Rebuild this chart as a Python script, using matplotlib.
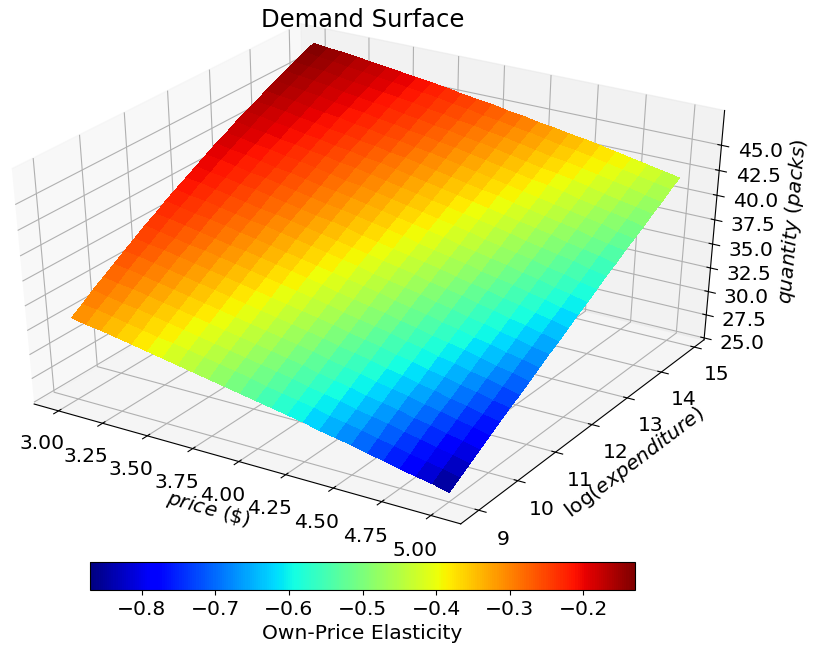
import numpy as np
import matplotlib
matplotlib.use("Agg")
import matplotlib.pyplot as plt
from matplotlib import cm
from matplotlib.colors import Normalize

# grid
price = [3.0, 3.0833, 3.1667, 3.25, 3.3333, 3.4167, 3.5, 3.5833, 3.6667, 3.75, 3.8333, 3.9167, 4.0,
         4.0833, 4.1667, 4.25, 4.3333, 4.4167, 4.5, 4.5833, 4.6667, 4.75, 4.8333, 4.9167, 5.0]
log_exp = [9.0, 9.25, 9.5, 9.75, 10.0, 10.25, 10.5, 10.75, 11.0, 11.25, 11.5, 11.75, 12.0,
           12.25, 12.5, 12.75, 13.0, 13.25, 13.5, 13.75, 14.0, 14.25, 14.5, 14.75, 15.0]

# quantity (packs), one row per price, one column per log(expenditure)
quantity = [
    [33.3, 34.0, 34.8, 35.5, 36.2, 36.9, 37.6, 38.3, 38.9, 39.6, 40.2, 40.8, 41.4, 42.0, 42.6, 43.1, 43.7, 44.2, 44.7, 45.2, 45.7, 46.2, 46.6, 47.1, 47.5],
    [33.0, 33.8, 34.5, 35.2, 36.0, 36.7, 37.3, 38.0, 38.7, 39.3, 39.9, 40.6, 41.1, 41.8, 42.3, 42.9, 43.4, 44.0, 44.5, 45.0, 45.5, 46.0, 46.4, 46.9, 47.3],
    [32.8, 33.5, 34.2, 35.0, 35.7, 36.4, 37.1, 37.7, 38.4, 39.0, 39.7, 40.3, 40.9, 41.5, 42.1, 42.6, 43.2, 43.7, 44.3, 44.8, 45.3, 45.8, 46.3, 46.7, 47.2],
    [32.5, 33.2, 34.0, 34.7, 35.4, 36.1, 36.8, 37.4, 38.1, 38.8, 39.4, 40.0, 40.6, 41.2, 41.8, 42.4, 42.9, 43.5, 44.0, 44.5, 45.1, 45.6, 46.0, 46.5, 47.0],
    [32.2, 32.9, 33.7, 34.4, 35.1, 35.8, 36.5, 37.2, 37.8, 38.5, 39.1, 39.7, 40.4, 41.0, 41.5, 42.1, 42.7, 43.2, 43.8, 44.3, 44.8, 45.3, 45.8, 46.3, 46.8],
    [31.9, 32.6, 33.4, 34.1, 34.8, 35.5, 36.2, 36.9, 37.5, 38.2, 38.8, 39.4, 40.1, 40.7, 41.3, 41.9, 42.4, 43.0, 43.5, 44.1, 44.6, 45.1, 45.6, 46.1, 46.6],
    [31.6, 32.4, 33.1, 33.8, 34.5, 35.2, 35.9, 36.6, 37.3, 37.9, 38.6, 39.2, 39.8, 40.4, 41.0, 41.6, 42.2, 42.7, 43.3, 43.8, 44.4, 44.9, 45.4, 45.9, 46.4],
    [31.3, 32.1, 32.8, 33.5, 34.2, 34.9, 35.6, 36.3, 37.0, 37.6, 38.3, 38.9, 39.5, 40.1, 40.7, 41.3, 41.9, 42.5, 43.0, 43.6, 44.1, 44.7, 45.2, 45.7, 46.2],
    [31.0, 31.8, 32.5, 33.2, 33.9, 34.6, 35.3, 36.0, 36.7, 37.3, 38.0, 38.6, 39.2, 39.8, 40.5, 41.0, 41.7, 42.2, 42.8, 43.3, 43.9, 44.4, 45.0, 45.5, 46.0],
    [30.7, 31.5, 32.2, 32.9, 33.6, 34.3, 35.0, 35.7, 36.4, 37.0, 37.7, 38.3, 39.0, 39.6, 40.2, 40.8, 41.4, 42.0, 42.5, 43.1, 43.6, 44.2, 44.7, 45.3, 45.8],
    [30.4, 31.2, 31.9, 32.6, 33.3, 34.0, 34.7, 35.4, 36.1, 36.7, 37.4, 38.0, 38.7, 39.3, 39.9, 40.5, 41.1, 41.7, 42.3, 42.8, 43.4, 43.9, 44.5, 45.0, 45.5],
    [30.1, 30.9, 31.6, 32.3, 33.0, 33.7, 34.4, 35.1, 35.8, 36.4, 37.1, 37.7, 38.3, 39.0, 39.6, 40.2, 40.8, 41.4, 42.0, 42.6, 43.1, 43.7, 44.2, 44.8, 45.3],
    [29.8, 30.5, 31.3, 32.0, 32.7, 33.4, 34.1, 34.8, 35.4, 36.1, 36.8, 37.4, 38.0, 38.7, 39.3, 39.9, 40.5, 41.1, 41.7, 42.3, 42.9, 43.4, 44.0, 44.5, 45.1],
    [29.5, 30.2, 31.0, 31.7, 32.4, 33.1, 33.8, 34.4, 35.1, 35.8, 36.4, 37.1, 37.7, 38.4, 39.0, 39.6, 40.2, 40.8, 41.4, 42.0, 42.6, 43.2, 43.7, 44.3, 44.8],
    [29.2, 29.9, 30.6, 31.3, 32.0, 32.7, 33.4, 34.1, 34.8, 35.5, 36.1, 36.8, 37.4, 38.0, 38.7, 39.3, 39.9, 40.5, 41.1, 41.7, 42.3, 42.9, 43.5, 44.0, 44.6],
    [28.9, 29.6, 30.3, 31.0, 31.7, 32.4, 33.1, 33.8, 34.5, 35.1, 35.8, 36.5, 37.1, 37.7, 38.4, 39.0, 39.6, 40.2, 40.8, 41.4, 42.0, 42.6, 43.2, 43.8, 44.3],
    [28.5, 29.2, 30.0, 30.7, 31.4, 32.1, 32.8, 33.5, 34.1, 34.8, 35.5, 36.1, 36.8, 37.4, 38.0, 38.7, 39.3, 39.9, 40.6, 41.1, 41.7, 42.3, 42.9, 43.5, 44.1],
    [28.2, 28.9, 29.6, 30.3, 31.0, 31.7, 32.4, 33.1, 33.8, 34.5, 35.1, 35.8, 36.4, 37.1, 37.7, 38.3, 39.0, 39.6, 40.2, 40.8, 41.4, 42.0, 42.6, 43.2, 43.8],
    [27.9, 28.6, 29.3, 30.0, 30.7, 31.4, 32.1, 32.8, 33.4, 34.1, 34.8, 35.5, 36.1, 36.7, 37.4, 38.0, 38.7, 39.3, 39.9, 40.5, 41.2, 41.8, 42.4, 43.0, 43.6],
    [27.5, 28.2, 29.0, 29.7, 30.4, 31.0, 31.7, 32.4, 33.1, 33.8, 34.4, 35.1, 35.8, 36.4, 37.1, 37.7, 38.3, 39.0, 39.6, 40.2, 40.9, 41.5, 42.1, 42.7, 43.3],
    [27.2, 27.9, 28.6, 29.3, 30.0, 30.7, 31.4, 32.1, 32.8, 33.4, 34.1, 34.8, 35.4, 36.1, 36.7, 37.4, 38.0, 38.7, 39.3, 39.9, 40.5, 41.2, 41.8, 42.4, 43.0],
    [26.8, 27.5, 28.3, 29.0, 29.7, 30.3, 31.0, 31.7, 32.4, 33.1, 33.7, 34.4, 35.1, 35.7, 36.4, 37.0, 37.7, 38.3, 39.0, 39.6, 40.2, 40.8, 41.5, 42.1, 42.7],
    [26.5, 27.2, 27.9, 28.6, 29.3, 30.0, 30.7, 31.4, 32.0, 32.7, 33.4, 34.1, 34.7, 35.4, 36.0, 36.7, 37.4, 38.0, 38.6, 39.3, 39.9, 40.5, 41.2, 41.8, 42.4],
    [26.2, 26.9, 27.6, 28.3, 29.0, 29.6, 30.3, 31.0, 31.7, 32.4, 33.0, 33.7, 34.4, 35.0, 35.7, 36.3, 37.0, 37.7, 38.3, 38.9, 39.6, 40.2, 40.8, 41.5, 42.1],
    [25.8, 26.5, 27.2, 27.9, 28.6, 29.3, 30.0, 30.6, 31.3, 32.0, 32.7, 33.3, 34.0, 34.7, 35.3, 36.0, 36.7, 37.3, 38.0, 38.6, 39.2, 39.9, 40.5, 41.2, 41.8],
]

# own-price elasticity with the sign dropped, same layout
elasticity_size = [
    [.310, .298, .287, .276, .266, .256, .247, .238, .229, .221, .213, .205, .198, .191, .185, .178, .172, .166, .160, .154, .148, .143, .138, .133, .128],
    [.326, .314, .303, .292, .281, .271, .262, .252, .243, .234, .226, .218, .211, .204, .197, .190, .184, .177, .171, .164, .158, .153, .148, .142, .137],
    [.343, .331, .319, .308, .297, .287, .277, .267, .257, .248, .240, .232, .224, .217, .210, .203, .196, .189, .182, .175, .169, .163, .158, .152, .147],
    [.360, .348, .336, .324, .313, .303, .292, .282, .272, .263, .254, .246, .238, .230, .223, .216, .208, .201, .194, .187, .180, .174, .168, .162, .157],
    [.378, .365, .353, .341, .330, .319, .308, .298, .288, .278, .269, .260, .252, .244, .236, .228, .221, .213, .206, .199, .192, .185, .179, .173, .167],
    [.397, .384, .371, .359, .348, .336, .325, .314, .304, .294, .285, .276, .267, .258, .250, .242, .235, .226, .219, .212, .204, .197, .190, .184, .177],
    [.416, .403, .390, .378, .366, .354, .343, .331, .320, .310, .301, .291, .282, .273, .265, .257, .249, .240, .232, .224, .217, .209, .202, .195, .188],
    [.436, .423, .410, .397, .384, .372, .361, .349, .337, .327, .317, .307, .298, .289, .280, .272, .263, .255, .246, .238, .230, .222, .214, .207, .200],
    [.457, .443, .429, .416, .403, .391, .379, .367, .355, .344, .334, .324, .314, .304, .295, .286, .278, .269, .260, .251, .243, .234, .226, .218, .211],
    [.478, .464, .450, .436, .423, .411, .398, .386, .374, .362, .352, .341, .331, .321, .311, .302, .293, .284, .275, .265, .257, .248, .239, .231, .223],
    [.500, .485, .471, .457, .444, .431, .418, .405, .392, .381, .370, .359, .348, .337, .327, .318, .309, .299, .289, .280, .271, .261, .252, .243, .235],
    [.522, .507, .493, .479, .465, .451, .438, .425, .412, .400, .388, .377, .366, .355, .344, .334, .325, .314, .304, .295, .285, .275, .266, .257, .248],
    [.545, .530, .515, .500, .486, .472, .458, .444, .431, .419, .407, .395, .384, .372, .361, .351, .341, .330, .320, .310, .300, .290, .280, .270, .261],
    [.569, .553, .538, .523, .508, .494, .480, .465, .451, .439, .427, .415, .403, .391, .380, .369, .358, .347, .336, .326, .315, .305, .294, .284, .274],
    [.593, .577, .562, .546, .531, .516, .502, .487, .472, .459, .447, .434, .422, .410, .398, .387, .376, .364, .352, .341, .331, .320, .309, .298, .288],
    [.618, .602, .586, .570, .555, .539, .524, .509, .494, .480, .467, .454, .441, .429, .416, .405, .394, .381, .369, .358, .347, .335, .324, .313, .302],
    [.644, .627, .611, .594, .578, .562, .547, .531, .516, .502, .488, .474, .461, .448, .435, .423, .412, .399, .386, .375, .364, .351, .339, .328, .317],
    [.670, .653, .636, .619, .603, .586, .570, .554, .538, .524, .510, .496, .482, .468, .455, .443, .431, .417, .404, .392, .381, .368, .355, .343, .332],
    [.696, .679, .662, .645, .628, .611, .594, .577, .561, .546, .532, .517, .503, .489, .475, .462, .450, .436, .422, .410, .398, .384, .371, .359, .347],
    [.724, .706, .688, .671, .653, .636, .619, .602, .585, .570, .555, .540, .525, .510, .496, .482, .470, .456, .441, .428, .416, .401, .388, .375, .362],
    [.752, .733, .715, .697, .679, .661, .644, .626, .609, .593, .578, .562, .547, .531, .516, .503, .490, .475, .460, .447, .434, .419, .404, .391, .378],
    [.781, .762, .743, .724, .706, .688, .670, .652, .634, .617, .601, .585, .570, .554, .538, .524, .510, .495, .480, .466, .452, .437, .422, .408, .394],
    [.810, .790, .771, .752, .733, .714, .696, .677, .658, .641, .625, .608, .592, .576, .560, .545, .531, .515, .499, .485, .471, .455, .439, .425, .411],
    [.840, .820, .800, .781, .761, .742, .723, .703, .684, .666, .650, .632, .616, .599, .582, .567, .553, .536, .519, .505, .490, .473, .457, .442, .428],
    [.870, .850, .830, .810, .790, .770, .750, .730, .710, .692, .675, .657, .640, .622, .605, .590, .575, .557, .540, .525, .510, .492, .475, .460, .445],
]

price_ticks = [3.0, 3.25, 3.5, 3.75, 4.0, 4.25, 4.5, 4.75, 5.0]
exp_ticks = [9, 10, 11, 12, 13, 14, 15]
qty_ticks = [25.0, 27.5, 30.0, 32.5, 35.0, 37.5, 40.0, 42.5, 45.0]
cbar_ticks = [-0.8, -0.7, -0.6, -0.5, -0.4, -0.3, -0.2]

plt.rcParams['font.size'] = 14.6

fig = plt.figure(figsize=(8.25, 6.53), dpi=100)
ax = fig.add_axes([-0.0722, 0.1182, 1.028, 0.9456], projection='3d')
# the reference axes fill their box, so do not force a square panel
ax.apply_aspect = lambda position=None: None
ax.set_box_aspect((1, 1, 0.75), zoom=0.918)
ax.set_proj_type('persp', focal_length=0.7)
ax.view_init(elev=32, azim=-58)

P, X = np.meshgrid(price, log_exp, indexing='ij')
Q = np.array(quantity)
E = -np.array(elasticity_size)

norm = Normalize(vmin=-0.87, vmax=-0.13)
# facet colour from the four corners of the facet
E_face = (E[:-1, :-1] + E[1:, :-1] + E[:-1, 1:] + E[1:, 1:]) / 4
ax.plot_surface(P, X, Q, rstride=1, cstride=1, facecolors=cm.jet(norm(E_face)),
                shade=False, linewidth=0, antialiased=False)

ax.set_xlim(2.86, 5.15)
ax.set_ylim(8.55, 15.3)
ax.set_zlim(24.8, 48.4)
ax.set_xticks(price_ticks)
ax.set_xticklabels(['%.2f' % t for t in price_ticks])
ax.set_yticks(exp_ticks)
ax.set_zticks(qty_ticks)
ax.set_zticklabels(['%.1f' % t for t in qty_ticks])
ax.set_xlabel(r'$price\ (\$)$', labelpad=10)
ax.set_ylabel(r'$\log(expenditure)$', labelpad=8)
ax.set_zlabel(r'$quantity\ (packs)$', labelpad=12)
ax.tick_params(axis='x', pad=8)
ax.tick_params(axis='y', pad=7)
ax.tick_params(axis='z', pad=8)

fig.text(363 / 825, 1 - 20 / 653, 'Demand Surface', fontsize=17.5, ha='center', va='center')

cax = fig.add_axes([90 / 825, 1 - 590 / 653, 545 / 825, 28 / 653])
cb = fig.colorbar(cm.ScalarMappable(norm=norm, cmap='jet'), cax=cax, orientation='horizontal')
cb.set_ticks(cbar_ticks)
cb.set_label('Own-Price Elasticity', fontsize=14.6)

fig.savefig('out.png', dpi=100)
